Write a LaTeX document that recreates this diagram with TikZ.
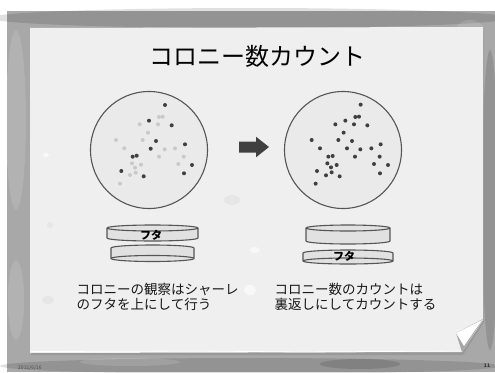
\documentclass[tikz,border=0pt]{standalone}
\usepackage{fontspec}
\newfontfamily\jp{Noto Sans CJK JP}
\begin{document}
\begin{tikzpicture}[x=1pt,y=-1pt,
  plate/.style={circle,draw=platerim,line width=1.1pt,fill=paper!98!black,inner sep=0pt,minimum size=117pt},
  darkdot/.style={fill=dotdark},
  lightdot/.style={fill=dotlight},
  dishline/.style={draw=platerim,line width=1.1pt,line join=round},
  dishfill/.style={fill=paper!94!black},
  caption/.style={font=\jp\fontsize{13.5}{15}\selectfont,align=left,anchor=west,inner sep=0pt,text=black!90},
  lidlabel/.style={font=\jp\bfseries\fontsize{11}{12}\selectfont,inner sep=0pt,text=black},
  blob/.style={fill=#1,opacity=0.12}
]
\definecolor{paper}{HTML}{EFEFEF}
\definecolor{platerim}{HTML}{555555}
\definecolor{dotdark}{HTML}{404040}
\definecolor{dotlight}{HTML}{C9C9C9}
\definecolor{board}{HTML}{A8A8A8}

\useasboundingbox (0,0) rectangle (495,372);
\clip (0,0) rectangle (495,372);
\fill[white] (0,0) rectangle (495,372);

% mottled grey backdrop
\fill[board] (7,11) rectangle (495,372);
\fill[blob=black] (250,18) ellipse[x radius=260,y radius=10];
\fill[blob=white] (16,120) ellipse[x radius=10,y radius=90];
\fill[blob=black] (490,200) ellipse[x radius=8,y radius=150];
\fill[blob=black] (250,366) ellipse[x radius=250,y radius=8];
\fill[blob=white] (130,362) ellipse[x radius=50,y radius=4];
\fill[blob=black] (360,364) ellipse[x radius=40,y radius=5];
\fill[blob=white] (470,30) ellipse[x radius=14,y radius=10];
\fill[blob=white] (16,300) ellipse[x radius=8,y radius=40];

% paper sheet with its shadow and curled corner
\fill[black!45,opacity=0.5] (31,29) -- (484,28) -- (484,322) -- (463,355) -- (31,355) -- cycle;
\fill[paper] (30,28) -- (483,27) -- (483,320) -- (462,352) -- (30,353) -- cycle;
\draw[white,line width=0.8pt] (31,351.5) -- (200,351) -- (300,352) -- (461,351);
\fill[black!35] (456,333) -- (483,319) -- (462,352) -- cycle;
\fill[white] (456,333) -- (482,320) -- (464,346) -- cycle;

% faint splashes on the paper
\fill[white,opacity=0.7] (46,155) ellipse[x radius=3,y radius=2];
\fill[white,opacity=0.6] (255,250) ellipse[x radius=5,y radius=3];
\fill[white,opacity=0.6] (250,290) ellipse[x radius=6,y radius=5];
\fill[black!20,opacity=0.25] (50,225) circle[radius=3];
\fill[black!20,opacity=0.25] (48,300) ellipse[x radius=6,y radius=4];
\fill[black!20,opacity=0.25] (232,200) ellipse[x radius=8,y radius=5];

% title
\node[font=\jp\fontsize{24}{28}\selectfont,inner sep=0pt,text=black] (title) at (257,56) {コロニー数カウント};

% plates seen from above
\node[plate] (plateA) at (149,150) {};
\node[plate] (plateB) at (343,150) {};

% colonies on the left plate: faint ones and sharp ones
\foreach \p in {(159,117),(162.7,116.7),(139.7,124.3),(158,124.3),(148,132.7),(116,140),(142.7,140),(124.3,148.3),(164.7,149.3),(175,148.3),(159,156.7),(183.7,156.7),(141,164.7),(132,163.3),(178.3,164),(135,167.7),(130,175),(135.7,172.7),(120,183.7)}
  \fill[lightdot] \p circle[radius=2];
\foreach \p in {(165,105),(149,120.7),(171.7,125.3),(156,141),(150.7,148.7),(185,144.3),(132.7,156.7),(136.7,155.7),(192,165),(121.3,171),(143.7,176.3),(184,173.3)}
  \fill[darkdot] \p circle[radius=2];

% colonies on the right plate
\foreach \a/\b in {272/74,256/111,267/110,196/133,226/122,252/133,292/136,221/158,125/180,205/180,246/183,150/205,231/205,271/208,304/205,332/193,175/230,188/228,255/230,329/230,172/250,200/255,183/262,312/252,354/255,141/273,185/277,168/286,209/289,330/280,137/311}
  \fill[darkdot] (270+\a/3,80+\b/3) circle[radius=2];

% arrow between the plates
\fill[dotdark] (239,141.7) -- (256,141.7) -- (256,136.7) -- (269,147) -- (256,157.3) -- (256,152.7) -- (239,152.7) -- cycle;

% left stack: lid on top, dish below
\filldraw[dishline,dishfill] (107,228) arc[start angle=180,end angle=360,x radius=45.5,y radius=3] -- (198,238) arc[start angle=0,end angle=180,x radius=45.5,y radius=3] -- cycle;
\draw[dishline] (107,228) arc[start angle=180,end angle=0,x radius=45.5,y radius=3];
\filldraw[dishline,dishfill] (111,248) arc[start angle=180,end angle=360,x radius=41.5,y radius=3] -- (194,258.5) arc[start angle=0,end angle=180,x radius=41.5,y radius=3] -- cycle;
\draw[dishline] (111,258.5) arc[start angle=180,end angle=360,x radius=41.5,y radius=3];
\node[lidlabel] (lidA) at (151,235) {フタ};

% right stack: dish on top, lid below
\filldraw[dishline,dishfill] (306,228) arc[start angle=180,end angle=360,x radius=42,y radius=3] -- (390,241) arc[start angle=0,end angle=180,x radius=42,y radius=3] -- cycle;
\draw[dishline] (306,228) arc[start angle=180,end angle=0,x radius=42,y radius=3];
\filldraw[dishline,dishfill] (303,253) arc[start angle=180,end angle=360,x radius=45,y radius=3] -- (393,261) arc[start angle=0,end angle=180,x radius=45,y radius=3] -- cycle;
\draw[dishline] (303,261) arc[start angle=180,end angle=360,x radius=45,y radius=3];
\node[lidlabel] (lidB) at (344,256) {フタ};

% captions
\node[caption] (capA) at (76.5,296.5) {コロニーの観察はシャーレ\\のフタを上にして行う};
\node[caption] (capB) at (274.5,296.5) {コロニー数のカウントは\\裏返しにしてカウントする};

% footer
\node[font=\jp\bfseries\fontsize{5}{6}\selectfont,inner sep=0pt,text=black!80] (pageno) at (487,366) {11};
\node[font=\jp\fontsize{5}{6}\selectfont,inner sep=0pt,text=black!70,anchor=west] (date) at (18,367.5) {2011/6/16};
\end{tikzpicture}
\end{document}
